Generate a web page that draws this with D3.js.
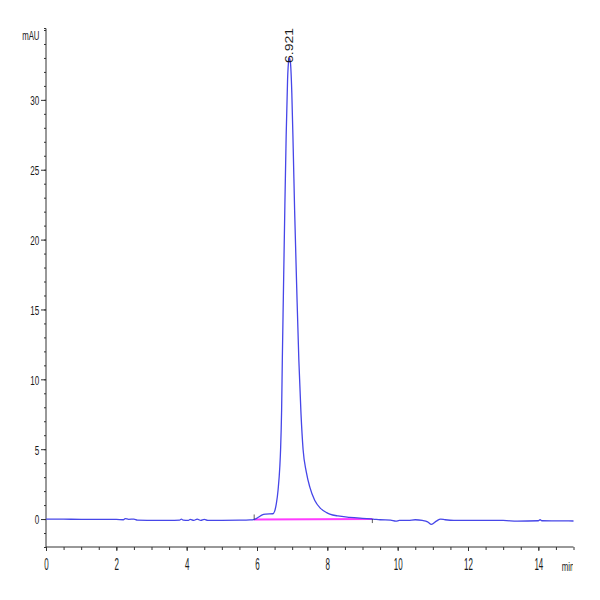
<!DOCTYPE html>
<html>
<head>
<meta charset="utf-8">
<script src="https://cdn.jsdelivr.net/npm/d3@7/dist/d3.min.js"></script>
<style>
  html, body { margin: 0; padding: 0; background: #fff; }
  svg { display: block; }
  text { font-family: "Liberation Sans", Arial, sans-serif; fill: #1a1a1a; }
</style>
</head>
<body>
<svg id="chart" width="600" height="600"></svg>
<script>
// ---- data ----
const timeMin = [
  0, 0.5, 1.0, 1.5, 2.0, 2.2, 2.25, 2.35, 2.5, 2.6, 3.0, 3.5, 3.8, 3.85, 3.9, 4.05, 4.1, 4.2, 4.3, 4.4, 4.5, 4.6, 5.0, 5.5, 5.8, 5.9,
  5.95, 6.05, 6.15, 6.25, 6.45, 6.5, 6.55, 6.6, 6.65, 6.67, 6.7, 6.72, 6.75, 6.79, 6.83, 6.87, 6.9, 6.92, 6.95, 6.99, 7.03, 7.07, 7.13, 7.19, 7.25, 7.31, 7.4, 7.5, 7.64, 7.8, 7.98, 8.07, 8.3, 8.64, 9.0, 9.3,
  9.5, 9.8, 9.95, 10.05, 10.3, 10.5, 10.7, 10.85, 10.96, 11.1, 11.22, 11.35, 11.6, 12.0, 12.5, 13.0, 13.4, 14.0, 14.05, 14.1, 14.5, 15.0
];
const signalMAU = [
  0.0, -0.01, -0.02, -0.02, -0.03, -0.05, 0.03, -0.02, 0.0, -0.08, -0.09, -0.1, -0.08, 0.0, -0.08, -0.1, -0.02, -0.1, 0.0, -0.1, -0.02, -0.1, -0.09, -0.08, -0.06, -0.04,
  0.0, 0.15, 0.3, 0.35, 0.38, 0.55, 1.1, 2.1, 3.8, 4.93, 7.8, 11.36, 16.0, 22.07, 27.5, 31.5, 32.8, 33.0, 32.7, 30.5, 26.5, 22.07, 16.5, 11.36, 7.6, 5.0, 3.4, 2.3, 1.35, 0.78, 0.46, 0.36, 0.22, 0.12, 0.05, 0.0,
  -0.05, -0.08, -0.15, -0.1, -0.1, -0.05, -0.1, -0.2, -0.38, -0.15, 0.0, -0.05, -0.1, -0.1, -0.1, -0.1, -0.15, -0.12, -0.05, -0.12, -0.13, -0.14
];
const baselineTime = [5.92, 9.28];
const baselineMAU = [-0.03, 0.0];
const peakTime = [6.921];
const peakHeight = [33.0];
const peakLabels = ["6.921"];
const xMajorTicks = [0, 2, 4, 6, 8, 10, 12, 14];
const yMajorTicks = [0, 5, 10, 15, 20, 25, 30];
const xLabel = "min";
const yLabel = "mAU";

// ---- layout ----
const svg = d3.select("#chart");
const x = d3.scaleLinear().domain([0, 15]).range([46, 573.5]);
const y = d3.scaleLinear().domain([-2, 35]).range([547, 30]);
const axisColor = "#333";

svg.append("clipPath").attr("id", "plotclip")
  .append("rect").attr("x", 46).attr("y", 20).attr("width", 528).attr("height", 528);
svg.append("clipPath").attr("id", "labelclip")
  .append("rect").attr("x", 0).attr("y", 0).attr("width", 573).attr("height", 600);

// x axis
const xMinor = d3.range(0, 15.01, 0.5);
const gx = svg.append("g").attr("transform", `translate(0,${y(-2)})`);
gx.call(d3.axisBottom(x).tickValues(xMinor).tickSize(3).tickFormat(""));
gx.call(g => g.select(".domain").remove());
gx.selectAll("line").attr("stroke", axisColor);
const gx2 = svg.append("g").attr("transform", `translate(0,${y(-2)})`);
gx2.call(d3.axisBottom(x).tickValues(xMajorTicks).tickSize(4).tickSizeOuter(0).tickFormat(d3.format("d")));
gx2.selectAll("line").attr("stroke", axisColor);
gx2.select(".domain").attr("stroke", axisColor).attr("d", `M${x(0)},0H${x(15)}`);
gx2.selectAll("text")
  .attr("font-size", 16).attr("fill", "#1a1a1a")
  .style("font-family", '"Liberation Sans", Arial, sans-serif')
  .attr("transform", "scale(0.5,1)")
  .attr("x", 0).attr("y", 23).attr("dy", 0);

// y axis
const yMinor = d3.range(-2, 35.01, 1);
const gy = svg.append("g").attr("transform", `translate(${x(0)},0)`);
gy.call(d3.axisLeft(y).tickValues(yMinor).tickSize(2).tickFormat(""));
gy.call(g => g.select(".domain").remove());
gy.selectAll("line").attr("stroke", axisColor);
const gy2 = svg.append("g").attr("transform", `translate(${x(0)},0)`);
gy2.call(d3.axisLeft(y).tickValues(yMajorTicks).tickSize(5).tickSizeOuter(0).tickFormat(d3.format("d")));
gy2.selectAll("line").attr("stroke", axisColor);
gy2.select(".domain").attr("stroke", axisColor).attr("d", `M0,${y(-2)}V${y(35) - 1.5}H-2`);
gy2.selectAll("text")
  .attr("font-size", 13.5).attr("fill", "#1a1a1a")
  .style("font-family", '"Liberation Sans", Arial, sans-serif')
  .attr("transform", "scale(0.6,1)")
  .attr("x", -6.7 / 0.6).attr("dy", "0.36em");

// axis titles
svg.append("text").attr("transform", "translate(39.5,40) scale(0.6,1)").attr("text-anchor", "end")
  .attr("font-size", 13).text(yLabel);
svg.append("g").attr("clip-path", "url(#labelclip)")
  .append("text").attr("transform", "translate(561.7,570.7) scale(0.6,1)").attr("text-anchor", "start")
  .attr("font-size", 13).text(xLabel);

// integration baseline
const pts = timeMin.map((t, i) => [t, signalMAU[i]]);
const bl = baselineTime.map((t, i) => [t, baselineMAU[i]]);
svg.append("path").datum(bl)
  .attr("fill", "none").attr("stroke", "#ff3cff").attr("stroke-width", 2)
  .attr("d", d3.line().x(d => x(d[0])).y(d => y(d[1])));

// signal
svg.append("path").datum(pts)
  .attr("clip-path", "url(#plotclip)")
  .attr("fill", "none").attr("stroke", "#4646e8").attr("stroke-width", 1.3)
  .attr("d", d3.line().x(d => x(d[0])).y(d => y(d[1])).curve(d3.curveMonotoneX));

// integration markers
svg.append("line").attr("x1", x(baselineTime[0])).attr("x2", x(baselineTime[0]))
  .attr("y1", y(baselineMAU[0]) - 5).attr("y2", y(baselineMAU[0])).attr("stroke", "#333").attr("stroke-width", 0.8);
svg.append("line").attr("x1", x(baselineTime[1])).attr("x2", x(baselineTime[1]))
  .attr("y1", y(baselineMAU[1])).attr("y2", y(baselineMAU[1]) + 4).attr("stroke", "#333").attr("stroke-width", 0.8);

// peak label
peakTime.forEach((t, i) => {
  svg.append("text")
    .attr("transform", `translate(${x(t) + 4},${y(peakHeight[i]) + 5}) rotate(-90) scale(1.4,1)`)
    .attr("font-size", 10)
    .attr("fill", "#1a1a1a")
    .text(peakLabels[i]);
});
</script>
</body>
</html>
